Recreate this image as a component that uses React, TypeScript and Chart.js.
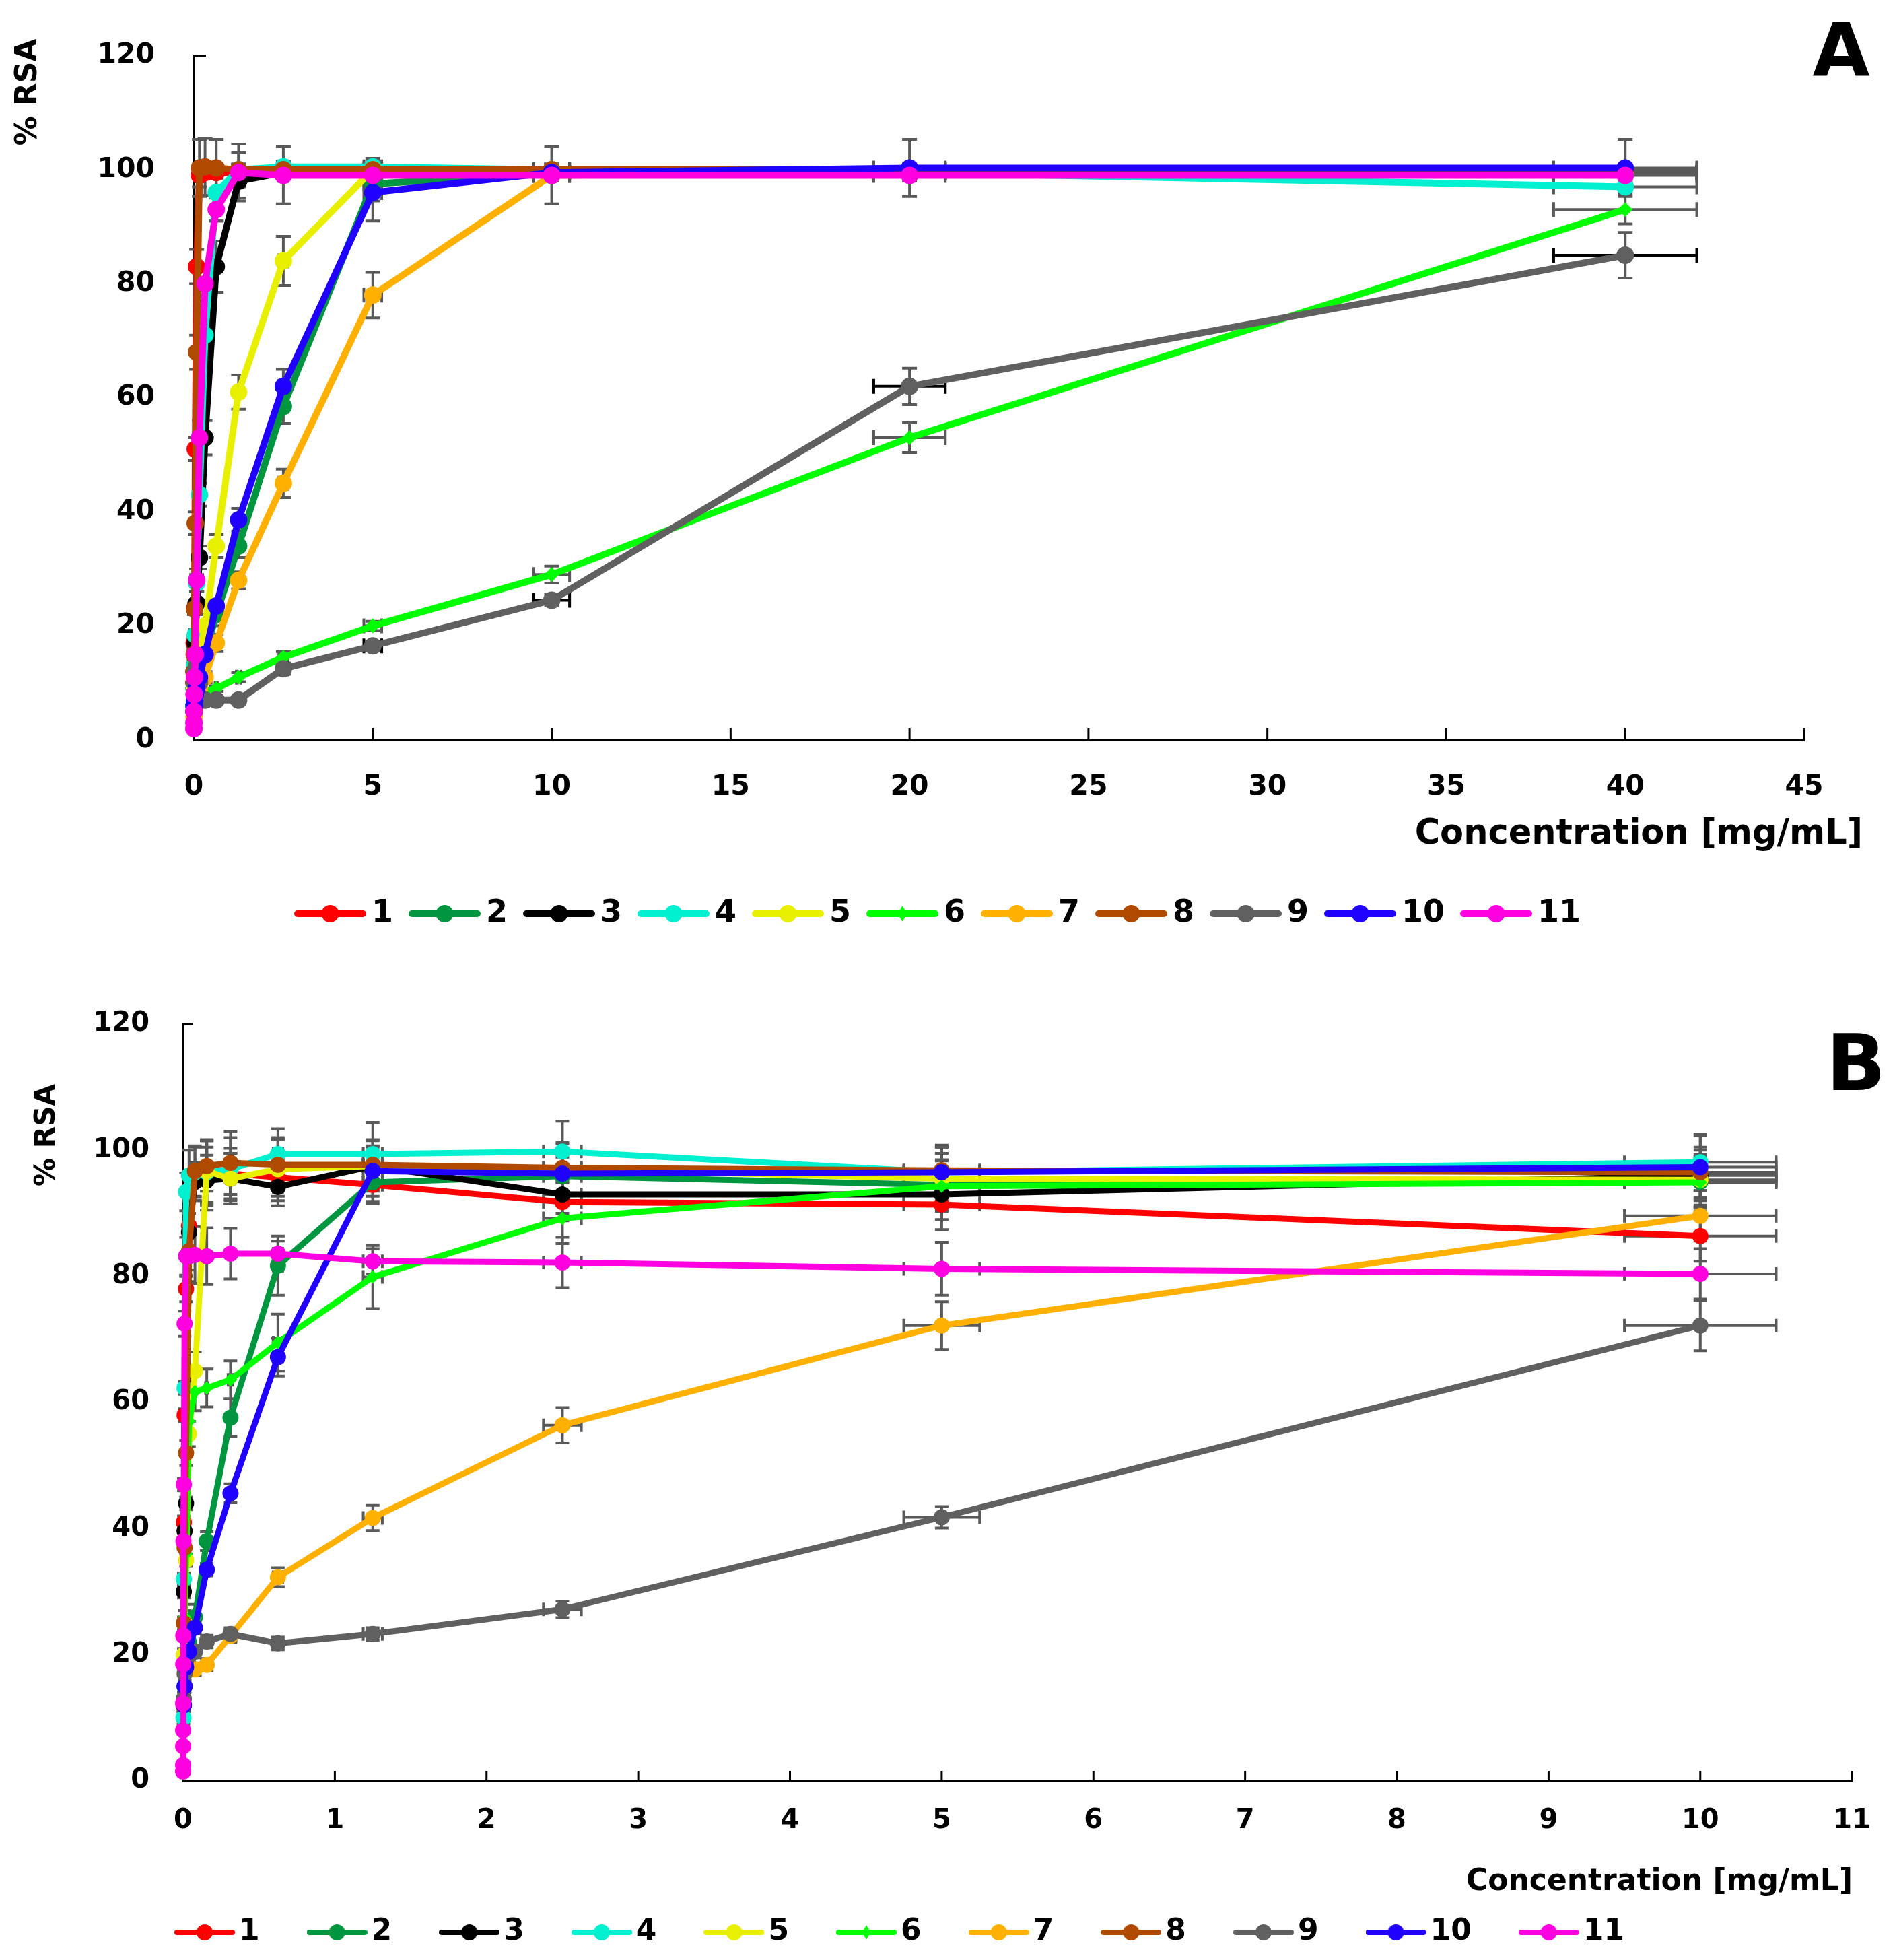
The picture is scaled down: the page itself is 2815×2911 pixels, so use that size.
import { useEffect, useRef } from "react";
import { Chart, registerables } from "chart.js";

Chart.register(...registerables);

const FONT = "'DejaVu Sans', Verdana, sans-serif";
const ERR_GREY = "#595959";

const seriesLabels = ["1", "2", "3", "4", "5", "6", "7", "8", "9", "10", "11"];
const seriesColors = [
  "#FF0000", "#00953F", "#000000", "#00F0D0", "#E8F000", "#00FF00",
  "#FFB000", "#B04A00", "#606060", "#2000FF", "#FF00E0",
];
const markerStyles = [
  "circle", "circle", "circle", "circle", "circle", "rectRot",
  "circle", "circle", "circle", "circle", "circle",
];

// ---- panel A: concentration (mg/mL) and % RSA ----
const concA = [0.0012, 0.0024, 0.0049, 0.0098, 0.0195, 0.039, 0.078, 0.156, 0.3125, 0.625, 1.25, 2.5, 5, 10, 20, 40];
const rsaA1 = [null, 10, 12, 17, 23, 51, 83, 99, 99.5, 99.5, 99.5, 99.5, 99.5, 99.5, 99.5, 99.5];
const rsaA2 = [null, null, 5, 6, 7, 8, 10, 12, 15, 22, 34, 58.5, 97.5, 99.5, 99.5, 99.5];
const rsaA3 = [null, null, 6, 9, 13, 17, 24, 32, 53, 83, 98, 99.5, 99.5, 99.5, 99.5, 99.5];
const rsaA4 = [null, null, 6, 9, 13, 18.4, 27.5, 43, 71, 96, 100, 100.5, 100.5, 100, 99.5, 97];
const rsaA5 = [null, null, 5, 7, 9, 11, 13, 15, 20, 34, 61, 84, 100, 100, 100, 99.5];
const rsaA6 = [null, null, 3, 4, 5, 6, 7, 8, 8.5, 9, 11, 14.5, 20, 29, 53, 93];
const rsaA7 = [null, null, 4, 5, 6, 7, 8, 9, 11, 17, 28, 45, 78, 99, 99.5, 99.5];
const rsaA8 = [null, null, 12, 15, 23, 38, 68, 100.3, 100.5, 100.3, 100, 100, 100, 100, 100, 100];
const rsaA9 = [null, null, null, 8, 10, 12, 13, 10, 7, 7, 7, 12.5, 16.5, 24.5, 62, 85];
const rsaA10 = [null, null, 5, 6, 7, 8, 9, 11, 15, 23.5, 38.6, 62, 96, 99.5, 100.3, 100.3];
const rsaA11 = [2, 3, 5, 8, 11, 15, 28, 53, 80, 93, 99.5, 99, 99, 99, 99, 99];

const errA1 = [0, 0.5, 0.5, 1, 1, 2, 3, 2, 1, 1, 1, 1, 1, 1, 1, 1];
const errA2 = [0, 0, 0.5, 0.5, 0.5, 0.5, 1, 1, 1, 2, 2, 3, 3, 1, 1, 1];
const errA3 = [0, 0, 0.5, 0.5, 1, 1, 2, 2, 3, 4.5, 3, 1, 1, 1, 1, 1];
const errA4 = [0, 0, 0.5, 0.5, 1, 1, 1.5, 2, 2, 5, 3, 1, 1, 1, 1, 1];
const errA5 = [0, 0, 0.5, 0.5, 0.5, 1, 1, 1, 2, 2, 3, 4.3, 1, 1, 1, 1];
const errA6 = [0, 0, 0.5, 0.5, 0.5, 0.5, 0.5, 0.5, 0.5, 0.5, 0.8, 1, 0.8, 1.5, 2.6, 2.5];
const errA7 = [0, 0, 0.5, 0.5, 0.5, 0.5, 0.5, 1, 1, 1.5, 1.5, 2.5, 4, 5, 1, 1];
const errA8 = [0, 0, 1, 1, 1, 2, 3, 5, 5, 5, 1, 1, 1, 1, 1, 1];
const errA9 = [0, 0, 0, 0.5, 0.5, 0.5, 0.5, 0.5, 0.5, 0.5, 0.5, 1, 0.8, 1, 3.2, 4];
const errA10 = [0, 0, 0.5, 0.5, 0.5, 0.5, 0.5, 1, 1, 1, 2, 3, 5, 1, 5, 5];
const errA11 = [0.5, 0.5, 0.5, 0.5, 1, 1, 2, 3, 3, 2, 5, 5, 3, 1, 1, 1];
const xErrA = [0, 0, 0, 0, 0, 0, 0.004, 0.008, 0.016, 0.031, 0.063, 0.125, 0.25, 0.5, 1, 2];
const xErrColorsA = [ERR_GREY, ERR_GREY, ERR_GREY, ERR_GREY, ERR_GREY, ERR_GREY, ERR_GREY, ERR_GREY, "#000000", ERR_GREY, ERR_GREY];

// ---- panel B ----
const concB = [0.00002, 0.00004, 0.00008, 0.00015, 0.0003, 0.0006, 0.0012, 0.0024, 0.0049, 0.0098, 0.0195, 0.039, 0.078, 0.156, 0.3125, 0.625, 1.25, 2.5, 5, 10];
const rsaB1 = [null, null, null, null, null, null, null, null, 41, 58, 78, 88, 95, 95.5, 96.3, 95.7, 94.5, 91.8, 91.4, 86.4];
const rsaB2 = [null, null, null, null, null, null, null, null, 12, 15, 18, 22, 26, 38, 57.6, 81.7, 94.9, 95.9, 94.5, 95];
const rsaB3 = [null, null, null, null, null, null, null, null, 30, 39.6, 44, 87, 95, 95.2, 95.5, 94.2, 97.5, 93, 93, 96];
const rsaB4 = [null, null, null, null, null, null, null, 10, 32, 62.3, 93.4, 96, 96.5, 96.5, 97, 99.4, 99.4, 99.8, 96.5, 98.1];
const rsaB5 = [null, null, null, null, null, null, null, null, 20, 25, 35, 55, 65, 96.7, 95.5, 97, 97.5, 97, 95.5, 95.3];
const rsaB6 = [null, null, null, null, null, null, null, null, null, 26, 36, 57, 61.7, 62.3, 63.6, 69.5, 79.9, 89.2, 94.3, 94.9];
const rsaB7 = [null, null, null, null, null, null, null, null, null, null, null, null, 17.7, 18.4, 23, 32.3, 41.7, 56.4, 72.2, 89.6];
const rsaB8 = [null, null, null, null, null, null, null, 12, 25, 37, 52, 84, 96.7, 97.5, 98, 97.7, 97.7, 97.2, 96.8, 96.5];
const rsaB9 = [null, null, null, null, null, null, null, null, 13, 17, 19, 20, 20.5, 22.1, 23.3, 21.8, 23.3, 27.2, 41.8, 72.2];
const rsaB10 = [null, null, null, null, null, null, null, null, 12, 15, 18, 20.5, 24.3, 33.5, 45.6, 67.2, 96.7, 96.3, 96.5, 97.3];
const rsaB11 = [1.5, 2.5, 5.5, 8, 12.3, 18.5, 23, 38, 47, 72.5, 83.2, 83.2, 83.4, 83.2, 83.6, 83.6, 82.4, 82.2, 81.2, 80.4];

const errB1 = [0, 0, 0, 0, 0, 0, 0, 0, 1, 1, 2, 2, 3, 5, 4, 3, 3, 3, 4, 4];
const errB2 = [0, 0, 0, 0, 0, 0, 0, 0, 1, 1, 1, 1, 2, 1.5, 3, 4.7, 3, 3, 4, 4];
const errB3 = [0, 0, 0, 0, 0, 0, 0, 0, 1, 1, 1, 3, 3, 4, 4, 3, 3, 3, 4, 4];
const errB4 = [0, 0, 0, 0, 0, 0, 0, 1, 1, 1, 3, 4, 4, 5, 5, 4, 5, 4.8, 4, 4.5];
const errB5 = [0, 0, 0, 0, 0, 0, 0, 0, 1, 1, 1, 2, 3, 5, 4, 5, 4, 4, 4, 4];
const errB6 = [0, 0, 0, 0, 0, 0, 0, 0, 0, 1, 1, 2, 3, 3, 3, 4.5, 5, 4, 4, 4];
const errB7 = [0, 0, 0, 0, 0, 0, 0, 0, 0, 0, 0, 0, 1, 1, 1, 1.5, 2, 2.8, 3.8, 4];
const errB8 = [0, 0, 0, 0, 0, 0, 0, 1, 1, 2, 2, 3, 4, 4, 5, 4, 4, 4, 4, 4];
const errB9 = [0, 0, 0, 0, 0, 0, 0, 0, 1, 1, 1, 1, 1, 1, 1, 1, 1, 1.3, 1.7, 4];
const errB10 = [0, 0, 0, 0, 0, 0, 0, 0, 1, 1, 1, 1, 1, 1, 1.5, 3, 4, 4, 4, 5];
const errB11 = [0, 0, 0, 0, 0, 0, 0, 0, 1, 2, 3, 4, 4.5, 4.5, 4, 2, 2, 4, 4.2, 4];
const xErrB = [0, 0, 0, 0, 0, 0, 0, 0, 0, 0, 0, 0, 0.004, 0.008, 0.016, 0.031, 0.063, 0.125, 0.25, 0.5];
const xErrColorsB = seriesLabels.map(() => ERR_GREY);

function legendIcon(color: string, marker: string, w: number, h: number, lw: number, r: number) {
  const c = document.createElement("canvas");
  c.width = w;
  c.height = h;
  const g = c.getContext("2d")!;
  g.strokeStyle = color;
  g.fillStyle = color;
  g.lineWidth = lw;
  g.lineCap = "round";
  g.beginPath();
  g.moveTo(lw / 2, h / 2);
  g.lineTo(w - lw / 2, h / 2);
  g.stroke();
  g.beginPath();
  if (marker === "rectRot") {
    g.moveTo(w / 2, h / 2 - r);
    g.lineTo(w / 2 + r * 0.6, h / 2);
    g.lineTo(w / 2, h / 2 + r);
    g.lineTo(w / 2 - r * 0.6, h / 2);
    g.closePath();
  } else {
    g.arc(w / 2, h / 2, r, 0, Math.PI * 2);
  }
  g.fill();
  return c;
}

function errorBarPlugin(spec: any) {
  return {
    id: "errorBars",
    beforeDatasetsDraw(chart: any) {
      const { ctx } = chart;
      const xs = chart.scales.x;
      const ys = chart.scales.y;
      const cap = spec.cap;
      ctx.save();
      ctx.lineWidth = spec.errWidth;
      chart.data.datasets.forEach((ds: any, i: number) => {
        ds.data.forEach((p: any, j: number) => {
          if (p.y == null) return;
          const px = xs.getPixelForValue(p.x);
          const py = ys.getPixelForValue(p.y);
          const ey = spec.yErr[i][j];
          if (ey) {
            const t = ys.getPixelForValue(p.y + ey);
            const b = ys.getPixelForValue(p.y - ey);
            ctx.strokeStyle = ERR_GREY;
            ctx.beginPath();
            ctx.moveTo(px, t);
            ctx.lineTo(px, b);
            ctx.moveTo(px - cap, t);
            ctx.lineTo(px + cap, t);
            ctx.moveTo(px - cap, b);
            ctx.lineTo(px + cap, b);
            ctx.stroke();
          }
          const ex = spec.xErr[j];
          if (ex) {
            const l = xs.getPixelForValue(p.x - ex);
            const r = xs.getPixelForValue(p.x + ex);
            ctx.strokeStyle = spec.xErrColors[i];
            ctx.beginPath();
            ctx.moveTo(l, py);
            ctx.lineTo(r, py);
            ctx.moveTo(l, py - cap);
            ctx.lineTo(l, py + cap);
            ctx.moveTo(r, py - cap);
            ctx.lineTo(r, py + cap);
            ctx.stroke();
          }
        });
      });
      ctx.restore();
    },
  };
}

function decorPlugin(spec: any) {
  return {
    id: "decor",
    beforeDatasetsDraw(chart: any) {
      const { ctx, chartArea: a } = chart;
      const xs = chart.scales.x;
      ctx.save();
      ctx.strokeStyle = "#000";
      ctx.lineWidth = 3;
      ctx.beginPath();
      xs.ticks.forEach((t: any) => {
        const px = xs.getPixelForValue(t.value);
        ctx.moveTo(px, a.bottom);
        ctx.lineTo(px, a.bottom - spec.tickLen);
      });
      ctx.moveTo(a.left, a.top);
      ctx.lineTo(a.left + spec.tickLen, a.top);
      ctx.stroke();
      ctx.restore();
    },
    afterDraw(chart: any) {
      const { ctx } = chart;
      ctx.save();
      ctx.fillStyle = "#000";
      ctx.font = `bold ${spec.xTitleSize}px ${FONT}`;
      ctx.textAlign = "right";
      ctx.textBaseline = "alphabetic";
      ctx.fillText("Concentration [mg/mL]", spec.xTitlePos[0], spec.xTitlePos[1]);

      ctx.font = `bold ${spec.letterSize}px ${FONT}`;
      ctx.textAlign = "center";
      ctx.textBaseline = "middle";
      ctx.fillText(spec.letter, spec.letterPos[0], spec.letterPos[1]);

      ctx.translate(spec.yTitlePos[0], spec.yTitlePos[1]);
      ctx.rotate(-Math.PI / 2);
      ctx.font = `bold ${spec.yTitleSize}px ${FONT}`;
      ctx.fillText("% RSA", 0, 0);
      ctx.restore();
    },
  };
}

function Panel({ spec, style }: { spec: any; style: any }) {
  const canvasRef = useRef<HTMLCanvasElement>(null);
  const chartRef = useRef<Chart | null>(null);

  useEffect(() => {
    if (!canvasRef.current) return;
    if (chartRef.current) chartRef.current.destroy();

    const datasets = spec.values.map((vals: (number | null)[], i: number) => ({
      label: seriesLabels[i],
      data: spec.conc.map((x: number, j: number) => ({ x, y: vals[j] })),
      borderColor: seriesColors[i],
      backgroundColor: seriesColors[i],
      pointBackgroundColor: seriesColors[i],
      pointBorderColor: seriesColors[i],
      pointBorderWidth: 0,
      pointStyle: markerStyles[i],
      pointRadius: markerStyles[i] === "rectRot" ? spec.diamondRadius : spec.pointRadius,
      borderWidth: spec.lineWidth,
      borderJoinStyle: "round",
      borderCapStyle: "round",
      tension: 0,
      clip: false,
      order: spec.values.length - 1 - i,
    }));

    const tickFont = { family: FONT, size: spec.tickFont, weight: "bold" };
    const [iw, ih, ilw, ir] = spec.icon;

    const config: any = {
      type: "line",
      data: { datasets },
      options: {
        animation: false,
        responsive: true,
        maintainAspectRatio: false,
        devicePixelRatio: 1,
        events: [],
        layout: { padding: spec.padding },
        scales: {
          x: {
            type: "linear",
            min: 0,
            max: spec.xMax,
            ticks: { stepSize: spec.xStep, color: "#000", font: tickFont, padding: spec.xTickPad, maxRotation: 0, autoSkip: false },
            grid: { display: false, drawTicks: false },
            border: { display: true, color: "#000", width: 3 },
            afterFit: (s: any) => {
              s.height = spec.xHeight;
            },
          },
          y: {
            type: "linear",
            min: 0,
            max: 120,
            ticks: { stepSize: 20, color: "#000", font: tickFont, padding: spec.yTickPad },
            grid: { display: false, drawTicks: false },
            border: { display: true, color: "#000", width: 3 },
            afterFit: (s: any) => {
              s.width = spec.yWidth;
            },
          },
        },
        plugins: {
          tooltip: { enabled: false },
          legend: {
            position: "bottom",
            labels: {
              usePointStyle: true,
              pointStyleWidth: spec.legendBox,
              padding: spec.legendPad,
              color: "#000",
              font: { family: FONT, size: spec.legendFont, weight: "bold" },
              generateLabels: (chart: any) =>
                chart.data.datasets.map((ds: any, i: number) => ({
                  text: ds.label,
                  datasetIndex: i,
                  fillStyle: ds.borderColor,
                  strokeStyle: ds.borderColor,
                  lineWidth: 0,
                  hidden: false,
                  fontColor: "#000",
                  pointStyle: legendIcon(ds.borderColor, markerStyles[i], iw, ih, ilw, markerStyles[i] === "rectRot" ? ir * 0.9 : ir),
                })),
            },
          },
        },
      },
      plugins: [errorBarPlugin(spec), decorPlugin(spec)],
    };

    chartRef.current = new Chart(canvasRef.current, config);
    return () => {
      if (chartRef.current) {
        chartRef.current.destroy();
        chartRef.current = null;
      }
    };
  }, [spec]);

  return (
    <div style={style}>
      <canvas ref={canvasRef} />
    </div>
  );
}

const specA = {
  conc: concA,
  values: [rsaA1, rsaA2, rsaA3, rsaA4, rsaA5, rsaA6, rsaA7, rsaA8, rsaA9, rsaA10, rsaA11],
  yErr: [errA1, errA2, errA3, errA4, errA5, errA6, errA7, errA8, errA9, errA10, errA11],
  xErr: xErrA,
  xErrColors: xErrColorsA,
  xMax: 45,
  xStep: 5,
  padding: { left: 120, right: 135, top: 33, bottom: 50 },
  yWidth: 168,
  xHeight: 197,
  tickFont: 41,
  xTickPad: 46,
  yTickPad: 58,
  lineWidth: 10,
  pointRadius: 13,
  diamondRadius: 11,
  cap: 11,
  errWidth: 4,
  tickLen: 18,
  legendFont: 46,
  legendPad: 38,
  legendBox: 77,
  icon: [107, 30, 10, 13],
  letter: "A",
  letterPos: [2735, 84],
  letterSize: 110,
  yTitlePos: [43, 137],
  yTitleSize: 44,
  xTitlePos: [2767, 1253],
  xTitleSize: 51,
};

const specB = {
  conc: concB,
  values: [rsaB1, rsaB2, rsaB3, rsaB4, rsaB5, rsaB6, rsaB7, rsaB8, rsaB9, rsaB10, rsaB11],
  yErr: [errB1, errB2, errB3, errB4, errB5, errB6, errB7, errB8, errB9, errB10, errB11],
  xErr: xErrB,
  xErrColors: xErrColorsB,
  xMax: 11,
  xStep: 1,
  padding: { left: 0, right: 54, top: 81, bottom: 9 },
  yWidth: 345,
  xHeight: 117,
  tickFont: 40,
  xTickPad: 36,
  yTickPad: 50,
  lineWidth: 9,
  pointRadius: 12,
  diamondRadius: 10,
  cap: 10,
  errWidth: 4,
  tickLen: 15,
  legendFont: 44,
  legendPad: 86,
  legendBox: 58,
  icon: [90, 28, 8, 12],
  letter: "B",
  letterPos: [2830, 149],
  letterSize: 116,
  yTitlePos: [143, 246],
  yTitleSize: 42,
  xTitlePos: [2825, 1367],
  xTitleSize: 44,
};

export default function App() {
  return (
    <div style={{ position: "absolute", left: 0, top: 0, width: 2815, height: 2911, overflow: "hidden", background: "#fff" }}>
      <Panel spec={specA} style={{ position: "absolute", left: 0, top: 0, width: 2815, height: 1440 }} />
      <Panel spec={specB} style={{ position: "absolute", left: -73, top: 1440, width: 2888, height: 1471 }} />
    </div>
  );
}
